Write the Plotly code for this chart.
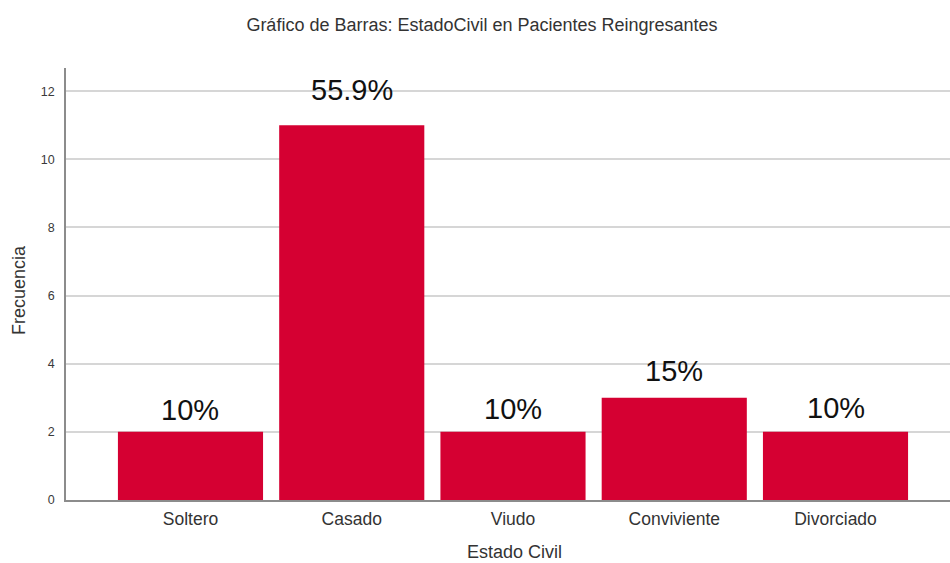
import plotly.graph_objects as go

categories = ["Soltero", "Casado", "Viudo", "Conviviente", "Divorciado"]
frecuencias = [2, 11, 2, 3, 2]
porcentajes = ["10%", "55.9%", "10%", "15%", "10%"]
y_ticks = [0, 2, 4, 6, 8, 10, 12]

# style: per-label vertical offset in pixels (label placement in the original)
label_shift = [4, 17, 5, 9, 6]

FONT = "Liberation Sans, Arial, sans-serif"
BAR = "#D50032"

fig = go.Figure()
fig.add_trace(go.Bar(
    x=list(range(len(categories))),
    y=frecuencias,
    marker=dict(color=BAR, line=dict(width=0)),
    width=0.9,
    hoverinfo="skip",
))

for i, (v, p) in enumerate(zip(frecuencias, porcentajes)):
    fig.add_annotation(x=i, y=v, text=p, showarrow=False, yanchor="bottom",
                       yshift=label_shift[i],
                       font=dict(family=FONT, size=29, color="#111111"))

# axis titles as annotations (avoid automargin shifts)
fig.add_annotation(text="Estado Civil", xref="paper", yref="paper",
                   x=0.507, y=0, xanchor="center", yanchor="middle", yshift=-52,
                   showarrow=False, font=dict(family=FONT, size=18, color="#333333"))
fig.add_annotation(text="Frecuencia", xref="paper", yref="paper",
                   x=0, y=0.486, xanchor="center", yanchor="middle", xshift=-47,
                   textangle=-90,
                   showarrow=False, font=dict(family=FONT, size=18, color="#333333"))

fig.update_layout(
    width=950, height=563,
    margin=dict(l=66, r=0, t=68, b=63),
    paper_bgcolor="white", plot_bgcolor="white",
    showlegend=False,
    font=dict(family=FONT, color="#333333"),
    title=dict(text="Gráfico de Barras: EstadoCivil en Pacientes Reingresantes",
               x=482 / 950, xanchor="center", xref="container",
               y=1 - 25 / 563, yanchor="middle", yref="container",
               font=dict(family=FONT, size=18, color="#333333")),
    xaxis=dict(
        range=[-0.772, 4.71],
        tickmode="array", tickvals=list(range(len(categories))), ticktext=categories,
        tickfont=dict(family=FONT, size=17.5, color="#333333"),
        showgrid=False, zeroline=False,
        showline=True, linecolor="#8c8c8c", linewidth=1.5,
        ticks="outside", ticklen=2, tickcolor="rgba(0,0,0,0)", automargin=False,
    ),
    yaxis=dict(
        range=[0, 12.68],
        tickmode="array", tickvals=y_ticks,
        tickfont=dict(family=FONT, size=12.5, color="#3a3a3a"),
        showgrid=True, gridcolor="#d6d6d6", gridwidth=1.5,
        zeroline=False,
        showline=True, linecolor="#8c8c8c", linewidth=1.5,
        ticks="outside", ticklen=7, tickcolor="rgba(0,0,0,0)", automargin=False,
    ),
)

fig.write_html("out.html", config={"displayModeBar": False},
               post_script="document.body.style.margin='0';")
